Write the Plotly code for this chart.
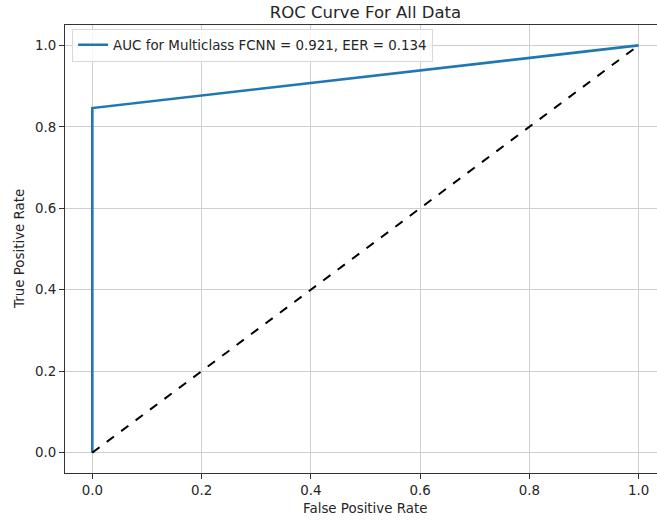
import plotly.graph_objects as go

fpr = [0.0, 0.0, 1.0]
tpr = [0.0, 0.846, 1.0]
chance_x = [0.0, 1.0]
chance_y = [0.0, 1.0]
tick_vals = [0.0, 0.2, 0.4, 0.6, 0.8, 1.0]
tick_text = ["0.0", "0.2", "0.4", "0.6", "0.8", "1.0"]
legend_label = "AUC for Multiclass FCNN = 0.921, EER = 0.134"
title_text = "ROC Curve For All Data"
x_label = "False Positive Rate"
y_label = "True Positive Rate"

font_family = "DejaVu Sans"
text_color = "#262626"
fs = 13.4

fig = go.Figure()
fig.add_trace(go.Scatter(x=fpr, y=tpr, mode="lines", name=legend_label,
                         line=dict(color="#1f77b4", width=2.6)))
fig.add_trace(go.Scatter(x=chance_x, y=chance_y, mode="lines", showlegend=False,
                         line=dict(color="black", width=2, dash="dash")))

W, H = 657, 521
L, T, B, R = 65, 25, 48, 0
fig.update_layout(
    width=W, height=H,
    margin=dict(l=L, r=R, t=T, b=B, autoexpand=False),
    plot_bgcolor="white", paper_bgcolor="white",
    font=dict(family=font_family, size=fs, color=text_color),
    title=dict(text=title_text, x=365.5 / W, xref="container", xanchor="center",
               y=1 - 12 / H, yref="container", yanchor="middle",
               font=dict(size=16.5, color=text_color)),
    showlegend=True,
    legend=dict(x=0.012, xref="paper", y=0.992, yref="paper", xanchor="left", yanchor="top",
                bgcolor="rgba(255,255,255,0.8)", bordercolor="#d9d9d9", borderwidth=1,
                font=dict(size=fs, color=text_color), itemwidth=30,
                tracegroupgap=0),
)
fig.update_xaxes(range=[-0.05, 1.0337], tickvals=tick_vals, ticktext=tick_text,
                 automargin=False,
                 showgrid=True, gridcolor="#cfcfcf", gridwidth=1,
                 zeroline=False, showline=True, linecolor="#333333", linewidth=1,
                 mirror=True, ticks="outside", ticklen=5, tickcolor="#333333",
                 tickfont=dict(size=fs, color=text_color))
fig.update_yaxes(range=[-0.05, 1.05], tickvals=tick_vals, ticktext=tick_text,
                 automargin=False,
                 showgrid=True, gridcolor="#cfcfcf", gridwidth=1,
                 zeroline=False, showline=True, linecolor="#333333", linewidth=1,
                 ticks="outside", ticklen=5, tickcolor="#333333",
                 tickfont=dict(size=fs, color=text_color))

fig.add_annotation(text=x_label, x=0.5, xref="x", y=-(508 - (H - B)) / (H - T - B), yref="paper",
                   yanchor="middle", xanchor="center", showarrow=False,
                   font=dict(size=fs, color=text_color))
fig.add_annotation(text=y_label, x=-(L - 19) / (W - L - R), xref="paper", y=0.5, yref="paper",
                   xanchor="center", yanchor="middle", showarrow=False, textangle=-90,
                   font=dict(size=fs, color=text_color))

fig.write_html("out.html", config={"displayModeBar": False},
               post_script="document.body.style.margin='0';document.body.style.overflow='hidden';")
